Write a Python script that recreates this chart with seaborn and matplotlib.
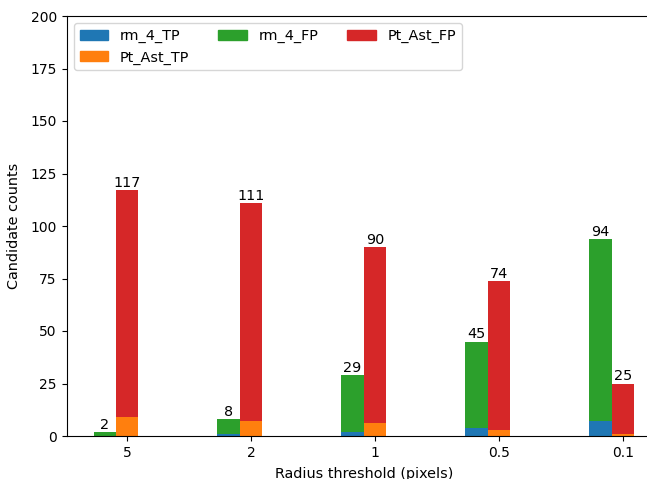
import numpy as np
import pandas as pd
import matplotlib
matplotlib.use("Agg")
import matplotlib.pyplot as plt
from matplotlib.patches import Patch
import seaborn as sns

# data
radius = ["5", "2", "1", "0.5", "0.1"]
rm4_tp = [0, 1, 2, 4, 7]
rm4_fp = [2, 7, 27, 41, 87]
pt_tp = [9, 7, 6, 3, 1]
pt_fp = [108, 104, 84, 71, 24]
methods = ["rm_4", "Pt_Ast"]

rm4_total = [a + b for a, b in zip(rm4_tp, rm4_fp)]
pt_total = [a + b for a, b in zip(pt_tp, pt_fp)]

df_total = pd.DataFrame({
    "radius": radius * 2,
    "method": ["rm_4"] * 5 + ["Pt_Ast"] * 5,
    "count": rm4_total + pt_total,
})
df_tp = pd.DataFrame({
    "radius": radius * 2,
    "method": ["rm_4"] * 5 + ["Pt_Ast"] * 5,
    "count": rm4_tp + pt_tp,
})

c_tp = {"rm_4": "#1f77b4", "Pt_Ast": "#ff7f0e"}
c_fp = {"rm_4": "#2ca02c", "Pt_Ast": "#d62728"}

fs = 10.4

fig = plt.figure(figsize=(6.47, 4.79), dpi=100)
ax = fig.add_axes([66.5 / 647, 43 / 479, 594.5 / 647, 420 / 479])

# FP drawn as full stack height, TP overlaid at the bottom
sns.barplot(data=df_total, x="radius", y="count", hue="method", hue_order=methods,
            palette=c_fp, width=0.36, saturation=1, errorbar=None, linewidth=0,
            legend=False, ax=ax)
sns.barplot(data=df_tp, x="radius", y="count", hue="method", hue_order=methods,
            palette=c_tp, width=0.36, saturation=1, errorbar=None, linewidth=0,
            legend=False, ax=ax)

ax.bar_label(ax.containers[0], labels=[str(v) for v in rm4_total], fontsize=fs)
ax.bar_label(ax.containers[1], labels=[str(v) for v in pt_total], fontsize=fs)

ax.set_xticks(np.arange(len(radius)) + 0.09)
ax.set_xticklabels(radius)
ax.set_xlim(-0.398, 4.398)
ax.set_ylim(0, 200)
ax.set_yticks(np.arange(0, 201, 25))
ax.tick_params(labelsize=10)
ax.set_xlabel("Radius threshold (pixels)", fontsize=fs, labelpad=5.5)
ax.set_ylabel("Candidate counts", fontsize=fs, labelpad=7)

handles = [
    Patch(color=c_tp["rm_4"], label="rm_4_TP"),
    Patch(color=c_tp["Pt_Ast"], label="Pt_Ast_TP"),
    Patch(color=c_fp["rm_4"], label="rm_4_FP"),
    Patch(color=c_fp["Pt_Ast"], label="Pt_Ast_FP"),
]
ax.legend(handles=handles, loc="upper left", ncol=3, fontsize=fs)

fig.savefig("out.png", dpi=100)
